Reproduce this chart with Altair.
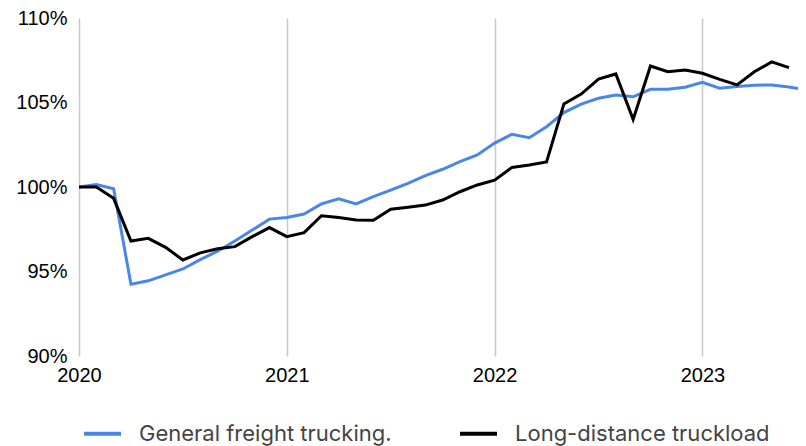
import altair as alt
import pandas as pd

years = [2020, 2021, 2022, 2023]
series_names = ["General freight trucking.", "Long-distance truckload"]
series_colors = ["#4a86e8", "#000000"]

general_freight = [
    100.0, 100.15, 99.9, 94.25, 94.45, 94.8, 95.15, 95.7, 96.2, 96.8, 97.45, 98.1,
    98.2, 98.4, 99.0, 99.3, 99.0, 99.43, 99.82, 100.22, 100.67, 101.05, 101.5, 101.9,
    102.6, 103.12, 102.92, 103.57, 104.4, 104.9, 105.25, 105.44, 105.34, 105.78, 105.78, 105.9,
    106.19, 105.85, 105.95, 106.02, 106.04, 105.92, 105.75,
]
long_distance = [
    100.0, 100.0, 99.33, 96.8, 96.96, 96.43, 95.68, 96.1, 96.35, 96.47, 97.06, 97.6,
    97.06, 97.3, 98.3, 98.2, 98.05, 98.03, 98.68, 98.8, 98.93, 99.23, 99.72, 100.12,
    100.4, 101.16, 101.3, 101.48, 104.91, 105.5, 106.39, 106.69, 104.0, 107.16, 106.82, 106.92,
    106.73, 106.37, 106.04, 106.82, 107.4, 107.06,
]

rows = []
for name, vals in zip(series_names, [general_freight, long_distance]):
    for i, v in enumerate(vals):
        rows.append({"t": 2020 + i / 12, "v": v / 100, "series": name})
df = pd.DataFrame(rows)

chart = alt.Chart(df).mark_line(strokeWidth=3, clip=True).encode(
    x=alt.X("t:Q",
            scale=alt.Scale(domain=[2020, 2023.46], nice=False, zero=False),
            axis=alt.Axis(values=years, format="d", title=None, grid=True,
                          gridColor="#c8c8c8", gridWidth=1.5, domain=False, ticks=False,
                          labelFlush=False, labelPadding=9, labelFontSize=20,
                          labelFont="Liberation Sans", labelColor="#000")),
    y=alt.Y("v:Q",
            scale=alt.Scale(domain=[0.9, 1.1], nice=False, zero=False),
            axis=alt.Axis(values=[0.9, 0.95, 1.0, 1.05, 1.1], format=".0%", title=None,
                          grid=False, domain=False, ticks=False, labelPadding=12,
                          labelFontSize=20, labelFont="Liberation Sans", labelColor="#000")),
    color=alt.Color("series:N",
                    scale=alt.Scale(domain=series_names, range=series_colors),
                    legend=alt.Legend(title=None, orient="none", direction="horizontal",
                                      legendX=3, legendY=395, symbolType="stroke",
                                      symbolSize=1369, symbolStrokeWidth=4,
                                      labelFontSize=22, labelFont="Inter", labelColor="#444",
                                      labelOffset=16, columnPadding=60, padding=0,
                                      labelLimit=400)),
).properties(
    width=719, height=338,
    autosize=alt.AutoSizeParams(type="none"),
    padding={"left": 71, "top": 10, "right": 0, "bottom": 94},
).configure_view(stroke=None)

chart.save("out.html", embed_options={"renderer": "svg", "actions": False})
